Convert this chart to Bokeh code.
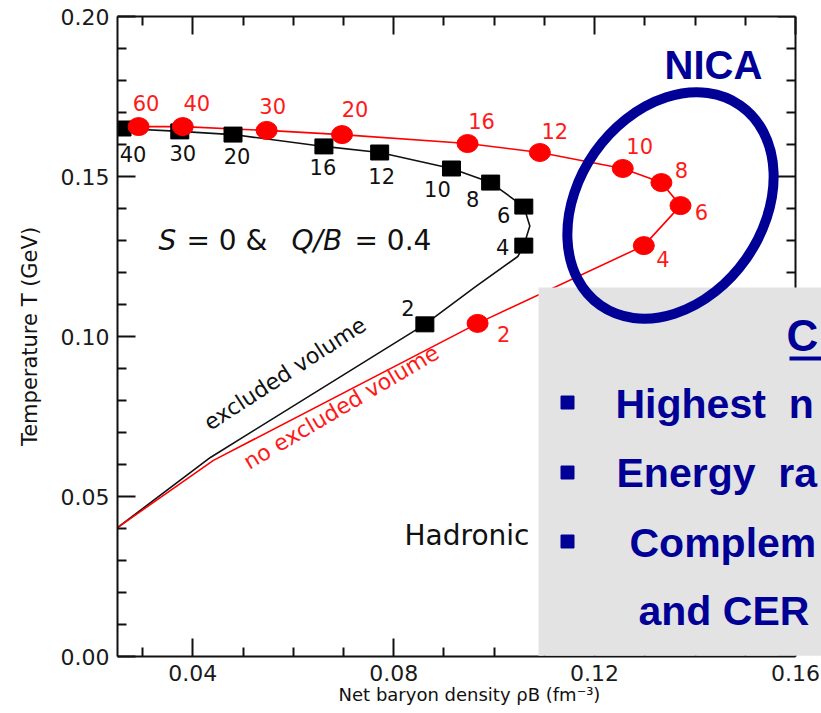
import math
from bokeh.plotting import figure
from bokeh.models import (LinearAxis, FixedTicker, PrintfTickFormatter, Range1d,
                          Label, BoxAnnotation, Span)
from bokeh.core.properties import value
from bokeh.embed import file_html
from bokeh.resources import INLINE

# ---------------- data ----------------
# excluded volume (black squares), labels = collision energy sqrt(s) in GeV
ev_rho = [0.0259, 0.0374, 0.0480, 0.0661, 0.0772, 0.0915, 0.0993, 0.1059, 0.1059, 0.0862]
ev_T = [0.1650, 0.1641, 0.1631, 0.1594, 0.1575, 0.1525, 0.1481, 0.1406, 0.1284, 0.1038]
ev_lbl = ["40", "30", "20", "16", "12", "10", "8", "6", "4", "2"]

# no excluded volume (red circles)
nev_rho = [0.0292, 0.0380, 0.0547, 0.0697, 0.0947, 0.1091, 0.1256, 0.1333, 0.1371, 0.1298, 0.0967]
nev_T = [0.1656, 0.1656, 0.1644, 0.1631, 0.1603, 0.1575, 0.1525, 0.1481, 0.1409, 0.1284, 0.1041]
nev_lbl = ["60", "40", "30", "20", "16", "12", "10", "8", "6", "4", "2"]

# freeze-out curves (lines through the points, continued to low T)
ev_line_rho = [0.0250, 0.0259, 0.0374, 0.0480, 0.0661, 0.0772, 0.0915, 0.0993, 0.1059,
               0.1071, 0.1059, 0.1047, 0.0963, 0.0862, 0.0435, 0.0250]
ev_line_T = [0.1650, 0.1650, 0.1641, 0.1631, 0.1594, 0.1575, 0.1525, 0.1481, 0.1406,
             0.1345, 0.1284, 0.1250, 0.1156, 0.1038, 0.0622, 0.0403]
nev_line_rho = [0.0250, 0.0292, 0.0380, 0.0547, 0.0697, 0.0947, 0.1091, 0.1256, 0.1333,
                0.1371, 0.1298, 0.0967, 0.0441, 0.0250]
nev_line_T = [0.1656, 0.1656, 0.1656, 0.1644, 0.1631, 0.1603, 0.1575, 0.1525, 0.1481,
              0.1409, 0.1284, 0.1041, 0.0613, 0.0403]

x_major = [0.04, 0.08, 0.12, 0.16]
x_minor = [0.03, 0.05, 0.06, 0.07, 0.09, 0.10, 0.11, 0.13, 0.14, 0.15]
y_major = [0.00, 0.05, 0.10, 0.15, 0.20]
y_minor = [0.01, 0.02, 0.03, 0.04, 0.06, 0.07, 0.08, 0.09, 0.11, 0.12, 0.13, 0.14,
           0.16, 0.17, 0.18, 0.19]

NB = "\u00a0"
bullets = ["Highest" + NB + NB + "n", "Energy" + NB + NB + "ra", "Complem", "and CER"]

# ---------------- layout / styles ----------------
X0, X_END = 0.025, 0.16          # axis extent of the chart
Y0, Y1 = 0.0, 0.20
W, H = 821, 713
FL, FT, FB = 117, 16, 57
AXR = 795                         # pixel column of the right spine
SX = (X_END - X0) / (AXR - FL)    # data per pixel
X1 = X0 + (W - FL) * SX           # frame runs to the right edge (slide overlay there)
FH = H - FT - FB


def px_x(X):  # picture pixel -> data x
    return X0 + (X - FL) * SX


def px_y(Y):  # picture pixel -> data y
    return Y0 + (FT + FH - Y) * (Y1 - Y0) / FH


RED = "#ff0000"
NAVY = "#000096"
INK = "#111111"
FONT = value("DejaVu Sans")

p = figure(width=W, height=H, x_range=Range1d(X0, X1), y_range=Range1d(Y0, Y1),
           output_backend="svg", toolbar_location=None,
           x_axis_location=None, y_axis_location=None,
           min_border_left=FL, min_border_right=0, min_border_top=FT, min_border_bottom=FB)
p.outline_line_color = None
p.background_fill_color = "white"
p.border_fill_color = "white"
p.grid.visible = False


def mk_axis(major, minor, labels, standoff, bounds=None):
    ax = LinearAxis(ticker=FixedTicker(ticks=major, minor_ticks=minor),
                    formatter=PrintfTickFormatter(format="%.2f"))
    if bounds is not None:
        ax.bounds = bounds
    ax.major_tick_in = 18
    ax.major_tick_out = 0
    ax.minor_tick_in = 9
    ax.minor_tick_out = 0
    ax.axis_line_width = 2
    ax.major_tick_line_width = 2
    ax.minor_tick_line_width = 2
    ax.axis_line_color = INK
    ax.major_tick_line_color = INK
    ax.minor_tick_line_color = INK
    if labels:
        ax.major_label_text_font = "DejaVu Sans"
        ax.major_label_text_font_size = "22px"
        ax.major_label_text_color = "#1a1a1a"
        ax.major_label_standoff = standoff
    else:
        ax.major_label_text_font_size = "1px"
        ax.major_label_text_color = None
        ax.major_label_standoff = 0
    return ax


xb = mk_axis(x_major, x_minor, True, 8, bounds=(X0, X_END))
xb.axis_label = "Net baryon density \u03c1B (fm\u207b\u00b3)"
xb.axis_label_text_font = "DejaVu Sans"
xb.axis_label_text_font_size = "18px"
xb.axis_label_text_font_style = "normal"
xb.axis_label_text_color = INK
xb.axis_label_standoff = 0
p.add_layout(xb, "below")

yl = mk_axis(y_major, y_minor, True, 8)
yl.axis_label = "Temperature T (GeV)"
yl.axis_label_text_font = "DejaVu Sans"
yl.axis_label_text_font_size = "21px"
yl.axis_label_text_font_style = "normal"
yl.axis_label_text_color = INK
yl.axis_label_standoff = 16
p.add_layout(yl, "left")

p.add_layout(mk_axis(x_major, x_minor, False, 0, bounds=(X0, X_END)), "above")

# right spine of the chart with inward ticks (mirror of the left axis)
p.add_layout(Span(location=X_END, dimension="height", line_color=INK, line_width=2))
p.ray(x=[X_END] * len(y_major), y=y_major, length=18, length_units="screen",
      angle=math.pi, line_color=INK, line_width=2)
p.ray(x=[X_END] * len(y_minor), y=y_minor, length=9, length_units="screen",
      angle=math.pi, line_color=INK, line_width=2)

# curves
p.line(ev_line_rho, ev_line_T, line_color=INK, line_width=1.6)
p.line(nev_line_rho, nev_line_T, line_color=RED, line_width=1.6)

# markers
p.rect(ev_rho, ev_T, width=18, height=15, width_units="screen", height_units="screen",
       fill_color="black", line_color="black")
p.ellipse(nev_rho, nev_T, width=21, height=18, width_units="screen", height_units="screen",
          fill_color=RED, line_color=RED)

# point labels (offsets in screen px)
ev_dx = [11, 3, 4, -1, 2, -14, -18, -20, -21, -17]
ev_dy = [25, 22, 21, 21, 23, 20, 16, 8, 1, -16]
nev_dx = [7.5, 14, 6, 13, 14, 15, 17, 20, 21, 19, 26]
nev_dy = [-23.5, -24, -24, -26, -23, -22, -23, -13, 6, 13, 11]
p.text(ev_rho, ev_T, text=ev_lbl, x_offset=ev_dx, y_offset=ev_dy, text_align="center",
       text_baseline="middle", text_font=FONT, text_font_size="21px", text_color=INK)
p.text(nev_rho, nev_T, text=nev_lbl, x_offset=nev_dx, y_offset=nev_dy, text_align="center",
       text_baseline="middle", text_font=FONT, text_font_size="21px", text_color="#ff1a1a")


def lab(X, Y, text, size, color=INK, style="normal", align="left", baseline="middle",
        angle=0.0, font="DejaVu Sans", level="annotation"):
    l = Label(x=px_x(X), y=px_y(Y), text=text, text_font=font, text_font_size=f"{size}px",
              text_color=color, text_font_style=style, text_align=align,
              text_baseline=baseline, angle=angle, level=level)
    p.add_layout(l)
    return l


def band(left, right, top, bottom, color, level="annotation"):
    b = BoxAnnotation(left=px_x(left), right=px_x(right), top=px_y(top), bottom=px_y(bottom),
                      fill_color=color, fill_alpha=1.0, line_color=None, level=level)
    p.add_layout(b)
    return b


# in-plot annotations (Y = vertical centre of the capitals)
lab(158, 240, "S", 28, style="italic")
lab(186, 240, "= 0 &", 28)
lab(291, 240, "Q/B", 28, style="italic")
lab(354, 240, "= 0.4", 28)
lab(205.6, 424.3, "excluded volume", 22, angle=math.radians(33))
lab(244.9, 463.1, "no excluded volume", 22, color="#ff1a1a", angle=math.radians(30.5))
lab(404, 535, "Hadronic", 28)

# slide overlay: grey text box
band(538, 830, 287, 655.3, "#e3e3e3")

# NICA ellipse
nica_center = (px_x(670), px_y(205))
r = p.ellipse([nica_center[0]], [nica_center[1]], width=244, height=185, width_units="screen",
              height_units="screen", angle=math.radians(55), fill_color=None,
              line_color=NAVY, line_width=10)
r.level = "overlay"

lab(664, 64, "NICA", 40, color=NAVY, style="bold", font="Liberation Sans", level="overlay")
lab(786, 335, "C", 44, color=NAVY, style="bold", font="Liberation Sans", level="overlay")
band(789, 830, 356, 360, NAVY, level="overlay")

bul_y = [402, 472, 541]
p.scatter([px_x(567)] * 3, [px_y(v) for v in bul_y], marker="square", size=13,
          fill_color=NAVY, line_color=NAVY).level = "overlay"
for txt, X, Y in zip(bullets, [615, 616, 629, 638], [403, 472, 542, 610]):
    lab(X, Y, txt, 41, color=NAVY, style="bold", font="Liberation Sans", level="overlay")

open("out.html", "w").write(file_html(p, INLINE))
